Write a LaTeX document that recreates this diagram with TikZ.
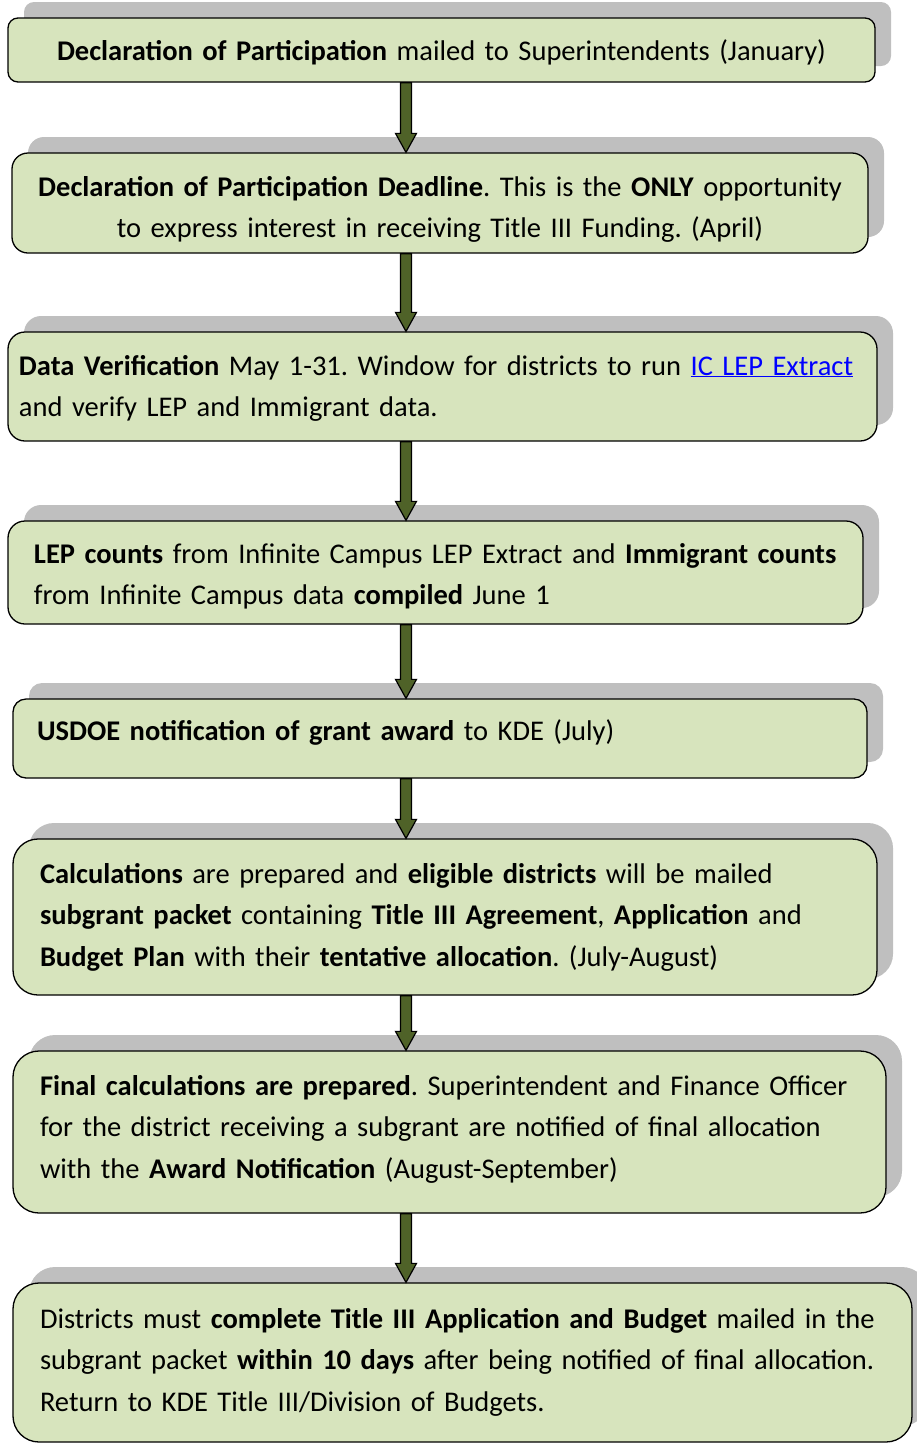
\documentclass[tikz,border=0pt]{standalone}
\usepackage{fontspec}
\setmainfont{Carlito}
\usepackage{xcolor}
\usepackage{tikz}
\usetikzlibrary{calc,shadows}
\definecolor{boxgreen}{HTML}{D7E4BD}
\definecolor{shadowgray}{HTML}{BFBFBF}
\definecolor{arrowgreen}{HTML}{4F6228}
\definecolor{linkblue}{HTML}{0000FF}
\frenchspacing

\begin{document}
\begin{tikzpicture}[x=1pt,y=-1pt,
    stepbox/.style={draw=black, line width=1.3pt, fill=boxgreen, inner ysep=0pt,
      font=\fontsize{28.5pt}{41.5pt}\selectfont,
      drop shadow={shadow xshift=16pt, shadow yshift=16pt, fill=shadowgray, opacity=1}},
    blockarrow/.style={draw=black, line width=1.2pt, fill=arrowgreen,
      to path={let \p1=(\tikztostart), \p2=(\tikztotarget) in
        (\x1-5.5pt,\y1) -- (\x1+5.5pt,\y1) -- (\x1+5.5pt,\y2+19pt) -- (\x1+10.5pt,\y2+19pt)
        -- (\x1,\y2) -- (\x1-10.5pt,\y2+19pt) -- (\x1-5.5pt,\y2+19pt) -- cycle}}]
    \useasboundingbox (0,0) rectangle (917,1444);
    \node[stepbox, rounded corners=10pt, align=center, inner xsep=8pt, text width=851pt, text height=42pt, text depth=22pt] (A) at (441.5,50)
      {\textbf{Declaration of Participation} mailed to Superintendents (January)};
    \node[stepbox, rounded corners=16pt, align=center, inner xsep=8pt, text width=840pt, text height=43pt, text depth=57pt] (B) at (440,203)
      {\textbf{Declaration of Participation Deadline}. This is the \textbf{ONLY} opportunity\\ to express interest in receiving Title III Funding. (April)};
    \node[stepbox, rounded corners=17pt, align=left, inner xsep=11pt, text width=847pt, text height=43pt, text depth=66pt] (C) at (442.5,386.5)
      {\textbf{Data Verification} May 1-31. Window for districts to run \textcolor{linkblue}{\underline{IC LEP Extract}}\\ and verify LEP and Immigrant data.};
    \node[stepbox, rounded corners=17pt, align=left, inner xsep=26pt, text width=803pt, text height=42pt, text depth=61pt] (D) at (435.5,572.5)
      {\mbox{\textbf{LEP counts} from Infinite Campus LEP Extract and \textbf{Immigrant counts}}\\ from Infinite Campus data \textbf{compiled} June 1};
    \node[stepbox, rounded corners=13pt, align=left, inner xsep=24pt, text width=806pt, text height=41pt, text depth=38pt] (E) at (440,738.5)
      {\textbf{USDOE notification of grant award} to KDE (July)};
    \node[stepbox, rounded corners=25pt, align=left, inner xsep=27pt, text width=810pt, text height=44pt, text depth=112pt] (F) at (445,917)
      {\textbf{Calculations} are prepared and \textbf{eligible districts} will be mailed\\ \textbf{subgrant packet} containing \textbf{Title III Agreement}, \textbf{Application} and\\ \textbf{Budget Plan} with their \textbf{tentative allocation}. (July-August)};
    \node[stepbox, rounded corners=26pt, align=left, inner xsep=27pt, text width=819pt, text height=44pt, text depth=118pt] (G) at (449.5,1132)
      {\textbf{Final calculations are prepared}. Superintendent and Finance Officer\\ for the district receiving a subgrant are notified of final allocation\\ with the \textbf{Award Notification} (August-September)};
    \node[stepbox, rounded corners=26pt, align=left, inner xsep=27pt, text width=845pt, text height=45pt, text depth=114pt] (H) at (462.5,1362.5)
      {Districts must \textbf{complete Title III Application and Budget} mailed in the\\ subgrant packet \textbf{within 10 days} after being notified of final allocation.\\ Return to KDE Title III/Division of Budgets.};
    \coordinate (X) at (406,0);
    \path (A.south -| X) edge[blockarrow] (B.north -| X);
    \path (B.south -| X) edge[blockarrow] (C.north -| X);
    \path (C.south -| X) edge[blockarrow] (D.north -| X);
    \path (D.south -| X) edge[blockarrow] (E.north -| X);
    \path (E.south -| X) edge[blockarrow] (F.north -| X);
    \path (F.south -| X) edge[blockarrow] (G.north -| X);
    \path (G.south -| X) edge[blockarrow] (H.north -| X);
  \end{tikzpicture}
\end{document}
